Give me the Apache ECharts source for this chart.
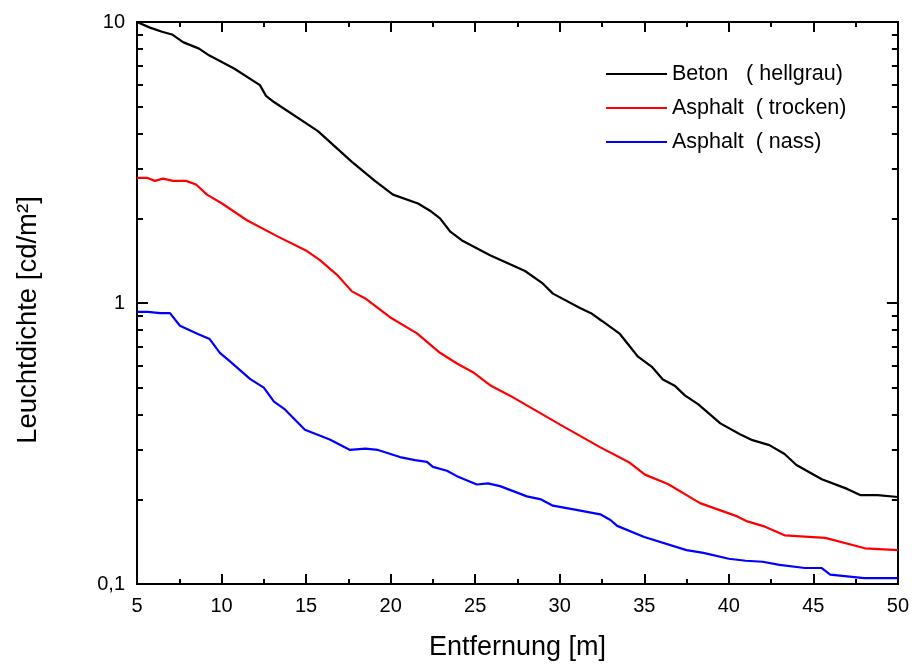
<!DOCTYPE html>
<html>
<head>
<meta charset="utf-8">
<script src="https://cdn.jsdelivr.net/npm/echarts@6/dist/echarts.min.js"></script>
<style>
html,body{margin:0;padding:0;background:#fff;}
#chart{width:912px;height:666px;}
</style>
</head>
<body>
<div id="chart"></div>
<script>
// ---- data ----
var seriesNames = ['Beton   ( hellgrau)', 'Asphalt  ( trocken)', 'Asphalt  ( nass)'];
var xBeton = [5,5.77,6.48,7.07,7.72,8.67,9.26,10.74,12.27,12.63,13.1,15.7,17.71,19.07,20.14,21.62,22.33,22.92,23.51,24.22,25.88,27.95,28.95,29.6,31.2,31.85,32.5,33.56,34.15,34.63,35.45,36.1,36.8,37.4,38.2,39.5,40.66,41.4,42.4,43.3,44.0,45.5,47.0,47.8,48.8,50];
var yBeton = [10,9.55,9.23,9.03,8.48,8.04,7.61,6.83,5.96,5.46,5.19,4.09,3.18,2.72,2.43,2.26,2.13,2.0,1.80,1.67,1.48,1.30,1.18,1.08,0.96,0.92,0.863,0.776,0.70,0.644,0.593,0.534,0.508,0.469,0.436,0.373,0.341,0.325,0.312,0.29,0.265,0.236,0.218,0.207,0.207,0.204];
var xTrocken = [5,5.59,6.06,6.54,7.13,7.9,8.49,9.14,10.03,11.5,13.28,15.05,15.82,16.83,17.71,18.48,19.96,21.56,22.92,23.92,24.87,25.88,27.06,30.0,32.38,34.15,35.04,36.4,38.3,40.5,41.1,42.14,43.3,45.7,48.05,50];
var yTrocken = [2.79,2.79,2.72,2.77,2.72,2.72,2.64,2.43,2.26,1.97,1.73,1.53,1.42,1.26,1.10,1.04,0.89,0.78,0.665,0.609,0.567,0.51,0.468,0.37,0.307,0.27,0.245,0.227,0.194,0.174,0.167,0.16,0.149,0.146,0.134,0.132];
var xNass = [5,5.65,6.36,6.95,7.54,8.6,9.3,9.9,10.5,11.7,12.5,13.1,13.75,14.93,16.4,17.6,18.5,19.25,20.55,21.44,22.15,22.5,23.33,23.92,25.1,25.76,26.47,28.06,28.9,29.6,30.9,32.4,33.0,33.4,35.0,37.5,38.5,40.0,41.0,42.0,43.0,44.5,45.5,46.0,48.0,50];
var yNass = [0.93,0.93,0.92,0.92,0.83,0.776,0.744,0.665,0.62,0.536,0.50,0.446,0.418,0.354,0.327,0.30,0.303,0.30,0.283,0.276,0.272,0.261,0.253,0.242,0.226,0.228,0.223,0.205,0.2,0.19,0.184,0.177,0.169,0.161,0.147,0.132,0.129,0.123,0.121,0.12,0.117,0.114,0.114,0.108,0.105,0.105];
var yTickLabels = ['0,1', '1', '10'];
var yMinorTicks = [0.2,0.3,0.4,0.5,0.6,0.7,0.8,0.9,2,3,4,5,6,7,8,9];
var colors = ['#000000', '#ff0000', '#0000ff'];

function pairs(xs, ys) { return xs.map(function (x, i) { return [x, ys[i]]; }); }

var font = 'Liberation Sans, Arial, sans-serif';
var axisLineStyle = { color: '#000', width: 2 };

function xAxisDef(pos, showLabels) {
  return {
    type: 'value', position: pos, min: 5, max: 50, interval: 5,
    axisLine: { show: true, lineStyle: axisLineStyle },
    axisTick: { show: true, inside: true, length: 10, lineStyle: { color: '#000', width: 2 } },
    minorTick: { show: true, splitNumber: 2, length: 5, lineStyle: { color: '#000', width: 2 } },
    splitLine: { show: false },
    axisLabel: { show: showLabels, color: '#000', fontSize: 20, fontFamily: font, margin: 12 },
    name: showLabels ? 'Entfernung [m]' : '',
    nameLocation: 'middle', nameGap: 50,
    nameTextStyle: { color: '#000', fontSize: 27, fontFamily: font }
  };
}
function yAxisDef(pos, minor, showLabels) {
  var a = {
    type: 'log', logBase: 10, position: pos, min: 0.1, max: 10,
    axisLine: { show: true, onZero: false, lineStyle: axisLineStyle },
    axisTick: { show: true, inside: true, length: minor ? 6 : 11, lineStyle: { color: '#000', width: 2 } },
    splitLine: { show: false },
    axisLabel: { show: showLabels, color: '#000', fontSize: 20, fontFamily: font, margin: 12,
      formatter: function (v, i) { return yTickLabels[i]; } }
  };
  if (minor) a.axisTick.customValues = yMinorTicks;
  if (showLabels) {
    a.name = 'Leuchtdichte [cd/m²]';
    a.nameLocation = 'middle';
    a.nameGap = 95;
    a.nameTextStyle = { color: '#000', fontSize: 27.5, fontFamily: font, padding: [0, 34, 0, 0] };
  }
  return a;
}

var chart = echarts.init(document.getElementById('chart'), null, { renderer: 'canvas' });
chart.setOption({
  animation: false,
  backgroundColor: '#fff',
  grid: { left: 137, right: 14, top: 22, bottom: 79, containLabel: false },
  xAxis: [xAxisDef('bottom', true), xAxisDef('top', false)],
  yAxis: [yAxisDef('left', false, true), yAxisDef('left', true, false), yAxisDef('right', false, false), yAxisDef('right', true, false)],
  legend: {
    orient: 'vertical', left: 606, top: 62, padding: 0,
    itemWidth: 61, itemHeight: 2, itemGap: 10, icon: 'rect',
    textStyle: { color: '#000', fontSize: 21.5, fontFamily: font, lineHeight: 24 },
    data: seriesNames
  },
  series: [
    { name: seriesNames[0], type: 'line', data: pairs(xBeton, yBeton), showSymbol: false, symbol: 'none', color: colors[0], lineStyle: { width: 2.2, color: colors[0] }, clip: true },
    { name: seriesNames[1], type: 'line', data: pairs(xTrocken, yTrocken), showSymbol: false, symbol: 'none', color: colors[1], lineStyle: { width: 2.2, color: colors[1] }, clip: true },
    { name: seriesNames[2], type: 'line', data: pairs(xNass, yNass), showSymbol: false, symbol: 'none', color: colors[2], lineStyle: { width: 2.2, color: colors[2] }, clip: true }
  ]
});
</script>
</body>
</html>
